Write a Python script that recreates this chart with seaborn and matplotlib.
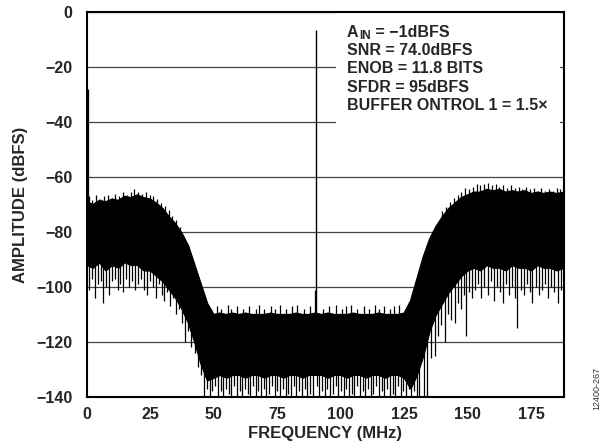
import numpy as np
import pandas as pd
import matplotlib
matplotlib.use('Agg')
import matplotlib.pyplot as plt
import seaborn as sns
from matplotlib.patches import Rectangle

freq = [0, 2.5, 5, 7.5, 10, 12.5, 15, 17.5, 20, 22.5, 25, 27.5, 30, 32.5, 35, 37.5,
        40, 42.5, 45, 47.5, 50, 52.5, 55, 57.5, 60, 62.5, 65, 67.5, 70, 72.5, 75, 77.5,
        80, 82.5, 85, 87.5, 90, 92.5, 95, 97.5, 100, 102.5, 105, 107.5, 110, 112.5, 115,
        117.5, 120, 122.5, 125, 127.5, 130, 132.5, 135, 137.5, 140, 142.5, 145, 147.5,
        150, 152.5, 155, 157.5, 160, 162.5, 165, 167.5, 170, 172.5, 175, 177.5, 180,
        182.5, 185, 188]
upper = [-69, -70, -68.5, -69, -68, -68.5, -67, -67.5, -66.5, -67.5, -68, -69.5, -71.5, -74.5, -77, -80.5,
         -85, -92, -99, -106, -110, -109.5, -110, -109.5, -110, -109.5, -110, -110, -110, -109.5, -110, -110,
         -110, -109.5, -110, -110, -109.5, -110, -109.5, -110, -110, -110, -109.5, -110, -110, -110, -109.5,
         -110, -110, -110, -109.5, -105, -97, -89, -82.5, -78, -74.5, -71.5, -69.5, -67.5,
         -66.5, -65.5, -65.5, -64.5, -65, -64.5, -65.5, -65, -65.5, -65, -66, -65.5, -66,
         -65.5, -66, -65.5]
lower = [-92, -93, -91, -94, -92, -93, -91, -92, -92, -94, -94, -96, -98, -101, -104, -108,
         -113, -120, -128, -134, -133, -132, -133, -132, -132, -133, -132, -132, -133, -132, -132, -133,
         -132, -132, -133, -132, -132, -132, -133, -132, -132, -133, -132, -132, -133, -132, -132,
         -133, -132, -132, -133, -137, -132, -125, -116, -110, -106, -102, -99, -96,
         -94, -93, -94, -92, -93, -93, -94, -92, -93, -93, -94, -92, -93,
         -93, -94, -93]

# spikes dropping below the floor: (freq MHz, bottom dBFS)
dips = [(0.8, -101), (2, -97), (3.2, -104), (4.5, -99), (5.5, -98), (6.5, -106), (7.6, -100),
        (8.8, -103), (10, -98), (11, -97), (12.2, -101), (13.3, -99), (14.5, -102), (15.6, -97),
        (16.8, -100), (18, -98), (19.1, -101), (20.3, -99), (21.4, -97), (22.5, -101), (23.7, -103),
        (24.8, -98), (26, -100), (27.2, -104), (28.3, -99), (29.5, -103), (30.6, -105), (31.8, -102),
        (33, -107), (34.1, -104), (35.3, -110), (36.4, -108), (37.6, -113), (38.8, -120), (40, -116),
        (41.2, -122), (42.5, -124), (43.8, -129), (45, -132),
        (46.3, -140), (47.3, -137), (48.4, -140), (49.5, -138), (50.6, -136), (51.6, -140),
        (52.7, -138), (53.8, -140), (54.8, -137), (55.9, -139), (57, -140), (58, -136),
        (59.1, -140), (60.2, -138), (61.2, -140), (62.3, -137), (63.4, -139), (64.4, -140),
        (65.5, -136), (66.6, -140), (67.6, -138), (68.7, -140), (69.8, -137), (70.8, -140),
        (71.9, -139), (73, -136), (74, -140), (75.1, -138), (76.2, -140), (77.2, -137),
        (78.3, -140), (79.4, -139), (80.4, -140), (81.5, -136), (82.6, -140), (83.6, -138),
        (84.7, -140), (85.8, -137), (86.8, -140), (87.9, -139), (89, -140), (90.5, -136),
        (91.6, -140), (92.6, -138), (93.7, -140), (94.8, -137), (95.8, -140), (96.9, -139),
        (98, -136), (99, -140), (100.1, -138), (101.2, -140), (102.2, -137), (103.3, -140),
        (104.4, -139), (105.4, -140), (106.5, -136), (107.6, -140), (108.6, -138), (109.7, -140),
        (110.8, -137), (111.8, -140), (112.9, -139), (114, -136), (115, -140), (116.1, -138),
        (117.2, -140), (118.2, -137), (119.3, -140), (120.4, -139), (121.4, -140), (122.5, -136),
        (123.6, -140), (124.6, -138), (125.7, -140), (126.8, -137), (127.8, -140), (128.9, -138),
        (130, -140), (130.8, -140),
        (132.6, -140), (134, -140), (135.5, -126), (137, -125), (138.3, -118), (139.5, -114),
        (141, -120), (142.3, -110), (143.5, -112), (145, -113), (146.2, -106), (147.5, -108),
        (148.5, -103), (149.4, -118), (150.6, -102), (151.8, -104), (153, -101), (154.2, -99),
        (155.4, -104), (156.6, -100), (157.8, -103), (159, -98), (160.2, -105), (161.4, -100),
        (162.6, -102), (163.8, -106), (165, -99), (166.2, -103), (167.4, -100), (168.6, -104),
        (169.5, -115), (170.8, -101), (172, -103), (173.2, -99), (174.4, -102), (175.5, -106),
        (176.8, -100), (178, -103), (179.2, -101), (180.4, -99), (181.6, -104), (182.8, -100),
        (184, -102), (185.6, -106), (186.8, -101)]

# peaks rising above the floor: (freq MHz, top dBFS)
peaks = [(0.8, -67), (2.3, -68.5), (3.8, -66.5), (5.3, -68), (6.8, -67), (8.3, -66.5),
         (9.8, -67.5), (11.3, -66), (12.8, -67), (14.3, -65.5), (15.8, -66.5), (17.3, -65.5),
         (18.8, -64.5), (20.3, -65.5), (21.8, -66), (23.3, -65.5), (24.8, -66.5), (26.3, -67),
         (27.8, -68), (29.3, -69.5), (30.8, -70.5), (32.3, -72), (33.8, -74), (35.3, -75.5),
         (36.8, -78),
         (49, -108), (51.5, -107), (53, -108), (55.5, -106.5), (57, -108), (59, -107),
         (61.5, -108), (64, -107), (66.5, -108), (68, -106.5), (70, -108), (72.5, -107),
         (74, -108), (76, -106.5), (78.5, -108), (81, -107), (83, -106.5), (85.5, -108),
         (88, -107), (89.7, -101), (93, -108), (95.5, -107), (98, -106.5), (100.5, -108),
         (102, -107), (104, -106.5), (106.5, -108), (109, -107), (111, -108), (113.5, -106.5),
         (115, -108), (117, -107), (119.5, -108), (121, -107), (123, -106.5), (125.5, -108),
         (140, -72.5), (141.5, -71), (143, -69), (144.5, -67.5), (146, -66.5), (147.5, -65.5),
         (149, -64), (150.5, -64.5), (152, -63.5), (153.5, -62.5), (155, -63), (156.5, -62.5),
         (158, -62), (159.5, -63), (161, -62.5), (162.5, -63.5), (164, -63), (165.5, -64),
         (167, -63), (168.5, -64), (170, -63.5), (171.5, -64.5), (173, -63.5), (174.5, -64.5),
         (176, -64), (177.5, -65), (179, -64), (180.5, -65), (182, -64.5), (183.5, -65),
         (185, -64), (186.5, -64.5)]

dip_freq = [f for f, _ in dips]
dip_low = [v for _, v in dips]
peak_freq = [f for f, _ in peaks]
peak_top = [v for _, v in peaks]

# fundamental and DC bin
tone_freq, tone_amp = 90.2, -6.5
dc_freq, dc_amp = 0.6, -28

info = ['SNR = 74.0dBFS', 'ENOB = 11.8 BITS', 'SFDR = 95dBFS', 'BUFFER ONTROL 1 = 1.5\u00d7']

sns.set_style('white')
plt.rcParams['font.family'] = ['Liberation Sans', 'DejaVu Sans']
plt.rcParams['font.weight'] = 'bold'

fig = plt.figure(figsize=(6.1, 4.48), dpi=100)
ax = fig.add_axes([0.142, 0.114, 0.783, 0.859])

env = pd.DataFrame({'freq': freq, 'upper': upper, 'lower': lower})
ax.fill_between(env['freq'], env['lower'], env['upper'], color='black', lw=0.8, zorder=3)
sns.lineplot(data=env, x='freq', y='upper', color='black', lw=0.9, ax=ax, zorder=3)
sns.lineplot(data=env, x='freq', y='lower', color='black', lw=0.9, ax=ax, zorder=3)

lo_at_dip = np.interp(dip_freq, freq, lower)
ax.vlines(dip_freq, dip_low, lo_at_dip + 2, color='black', lw=0.9, zorder=3)
up_at_peak = np.interp(peak_freq, freq, upper)
ax.vlines(peak_freq, up_at_peak - 2, peak_top, color='black', lw=0.9, zorder=3)

ax.vlines([tone_freq], [-110], [tone_amp], color='black', lw=1.0, zorder=3)
ax.vlines([dc_freq], [-70], [dc_amp], color='black', lw=0.9, zorder=3)

ax.set_xlim(0, 188)
ax.set_ylim(-140, 0)
ax.set_xticks([0, 25, 50, 75, 100, 125, 150, 175])
ax.set_yticks([0, -20, -40, -60, -80, -100, -120, -140])
ax.set_yticklabels(['0', '\u221220', '\u221240', '\u221260', '\u221280', '\u2212100', '\u2212120', '\u2212140'])
ax.tick_params(axis='x', direction='in', length=4, width=1, labelsize=11.5, pad=7, color='black')
ax.tick_params(axis='y', length=0, labelsize=11.5, pad=10)
for lab in ax.get_xticklabels() + ax.get_yticklabels():
    lab.set_fontweight('bold')

ax.yaxis.grid(True, color='#444444', lw=0.9, zorder=1)
ax.set_axisbelow(True)
for s in ax.spines.values():
    s.set_visible(True)
    s.set_color('black')
    s.set_linewidth(1.5)

ax.set_xlabel('FREQUENCY (MHz)', fontsize=12, fontweight='bold', labelpad=3)
ax.set_ylabel('AMPLITUDE (dBFS)', fontsize=12, fontweight='bold', labelpad=6)

# white panel behind the annotation
ax.add_patch(Rectangle((98.2, -42.5), 186.4 - 98.2, 42.5, facecolor='white',
                       edgecolor='none', zorder=2))
ta = ax.text(102.5, -7.3, 'A', fontsize=11.5, fontweight='bold', va='center', ha='left', zorder=4)
ti = ax.annotate('IN', xy=(1.0, 0.0), xycoords=ta, xytext=(0.3, -1.8),
                 textcoords='offset points', fontsize=8.5, fontweight='bold',
                 va='bottom', ha='left', zorder=4)
ax.annotate(' = \u22121dBFS', xy=(1.0, 0.5), xycoords=(ti, ta), fontsize=11.5,
            fontweight='bold', va='center', ha='left', zorder=4)
for i, line in enumerate(info):
    ax.text(102.5, -14.0 - i * 6.7, line, fontsize=11.5, fontweight='bold',
            va='center', ha='left', zorder=4)

fig.text(0.978, 0.134, '12400-267', rotation=90, fontsize=6.5, color='#333333',
         fontweight='normal', ha='center', va='center')

fig.savefig('out.png', dpi=100)
